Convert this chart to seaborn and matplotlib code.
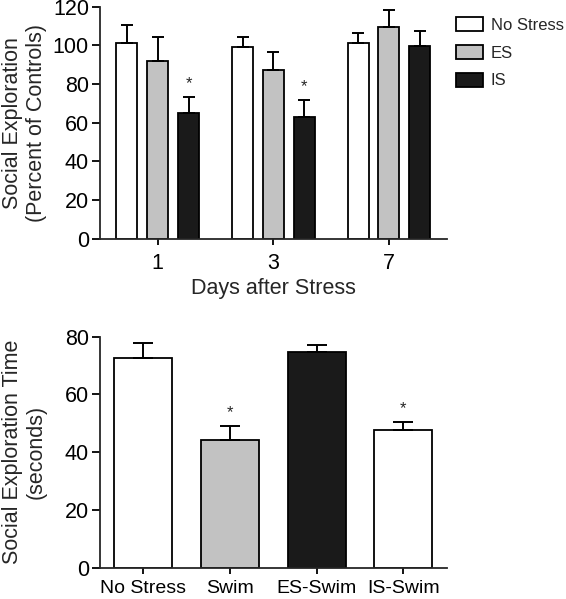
import pandas as pd
import seaborn as sns
from matplotlib import pyplot as plt
from matplotlib.patches import Patch

''' Data '''

days = ["1", "3", "7"]
groups = ["No Stress", "ES", "IS"]
explo_mean = {"No Stress": [101, 99, 101], "ES": [92, 87.5, 109.5], "IS": [65, 63, 99.5]}
explo_sem = {"No Stress": [9.5, 5.5, 5.5], "ES": [12.5, 9, 9], "IS": [8.5, 9, 8]}
explo_star = {"No Stress": [False, False, False], "ES": [False, False, False], "IS": [True, True, False]}

swim_groups = ["No Stress", "Swim", "ES-Swim", "IS-Swim"]
swim_mean = [72.7, 44.3, 74.7, 47.6]
swim_sem = [5.0, 4.8, 2.4, 2.9]
swim_star = [False, True, False, True]

group_colors = {"No Stress": "white", "ES": "#c2c2c2", "IS": "#1a1a1a"}
swim_colors = ["white", "#c2c2c2", "#1a1a1a", "white"]

sns.set_style("ticks")
plt.rcParams['font.family'] = ['Liberation Sans', 'DejaVu Sans']
FS = 15.5

fig = plt.figure(figsize = (5.66, 5.99), dpi = 100)
ax1 = fig.add_axes([0.1767, 0.6015, 0.6125, 0.3873])
ax2 = fig.add_axes([0.1767, 0.0524, 0.6125, 0.3855])

''' Top chart '''

df1 = pd.DataFrame([
    {"day": d, "group": g, "value": explo_mean[g][i], "sem": explo_sem[g][i], "star": explo_star[g][i]}
    for g in groups for i, d in enumerate(days)
])

sns.barplot(ax = ax1, data = df1, x = "day", y = "value", hue = "group", order = days, hue_order = groups,
            palette = group_colors, errorbar = None, width = 0.8, gap = 0.32,
            edgecolor = "black", linewidth = 1.3, legend = False)

for container, g in zip(ax1.containers, groups):
    sub = df1[df1.group == g].set_index("day").loc[days]
    xs = [p.get_x() + p.get_width() / 2 for p in container.patches]
    ax1.errorbar(xs, sub["value"], yerr = [[0] * len(xs), sub["sem"]], fmt = "none",
                 ecolor = "black", elinewidth = 1.4, capsize = 4, capthick = 1.4, zorder = 1)
    for x, v, e, s in zip(xs, sub["value"], sub["sem"], sub["star"]):
        if s:
            ax1.annotate("*", (x, v + e), xytext = (0, 4), textcoords = "offset points",
                         ha = "center", va = "bottom", fontsize = 12)

ax1.set_xlim(-0.5, 2.5)
ax1.set_ylim(0, 120)
ax1.set_yticks([0, 20, 40, 60, 80, 100, 120])
ax1.set_xlabel("Days after Stress", fontsize = FS, labelpad = 3)
ax1.set_ylabel("Social Exploration\n(Percent of Controls)", fontsize = FS, labelpad = 4)

fig.legend(handles = [Patch(facecolor = group_colors[g], edgecolor = "black", linewidth = 1.3, label = g) for g in groups],
           loc = "upper left", bbox_to_anchor = (0.793, 0.982), frameon = False, fontsize = 12,
           handlelength = 1.65, handleheight = 0.9, labelspacing = 0.72, handletextpad = 0.45,
           borderaxespad = 0)

''' Bottom chart '''

df2 = pd.DataFrame({"group": swim_groups, "value": swim_mean, "sem": swim_sem, "star": swim_star})

sns.barplot(ax = ax2, data = df2, x = "group", y = "value", hue = "group", order = swim_groups,
            palette = swim_colors, errorbar = None, width = 0.67,
            edgecolor = "black", linewidth = 1.3, legend = False)

xs2 = []
for g in swim_groups:
    for container in ax2.containers:
        for p in container.patches:
            cx = p.get_x() + p.get_width() / 2
            if p.get_height() > 0 and abs(cx - swim_groups.index(g)) < 0.4:
                xs2.append(cx)
ax2.errorbar(xs2, df2["value"], yerr = [[0] * len(xs2), df2["sem"]], fmt = "none",
             ecolor = "black", elinewidth = 1.4, capsize = 7, capthick = 1.4, zorder = 1)
for x, v, e, s in zip(xs2, df2["value"], df2["sem"], df2["star"]):
    if s:
        ax2.annotate("*", (x, v + e), xytext = (0, 4), textcoords = "offset points",
                     ha = "center", va = "bottom", fontsize = 12)

ax2.set_xlim(-0.5, 3.5)
ax2.set_ylim(0, 80)
ax2.set_yticks([0, 20, 40, 60, 80])
ax2.set_xlabel("")
ax2.set_ylabel("Social Exploration Time\n(seconds)", fontsize = FS, labelpad = 13)

for ax in (ax1, ax2):
    sns.despine(ax = ax)
    ax.spines["left"].set_linewidth(1.3)
    ax.spines["bottom"].set_linewidth(1.3)
    ax.tick_params(axis = "both", width = 1.3, labelsize = FS, colors = "black")
    ax.tick_params(axis = "y", length = 6, pad = 2)
    ax.tick_params(axis = "x", length = 4, pad = 6)
ax2.tick_params(axis = "x", labelsize = 14, pad = 5)

fig.savefig("out.png", dpi = 100)
